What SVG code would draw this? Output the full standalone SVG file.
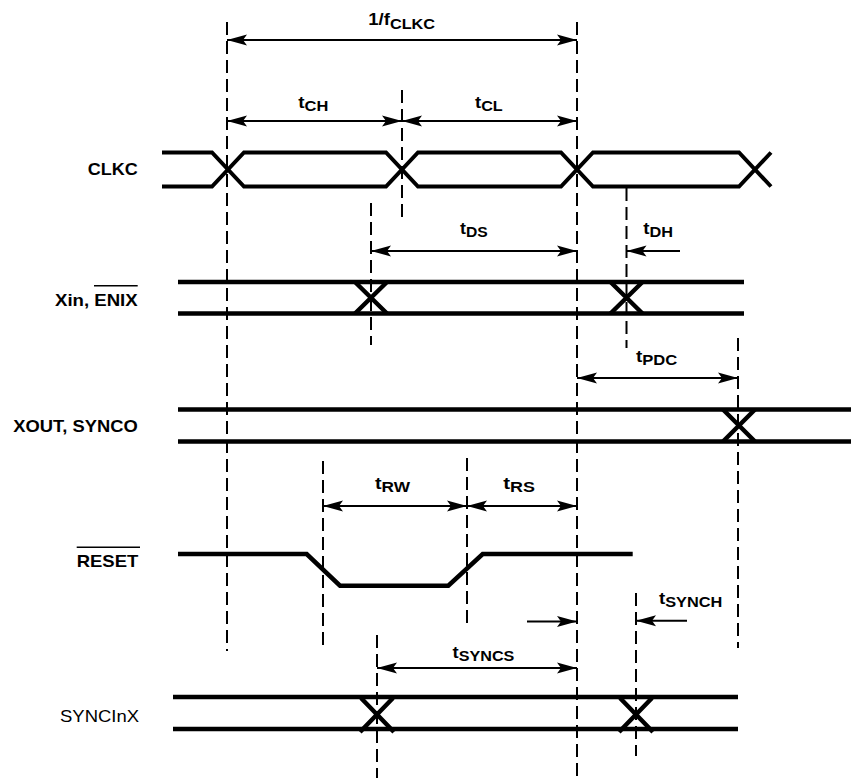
<svg xmlns="http://www.w3.org/2000/svg" width="851" height="778" viewBox="0 0 851 778">
<defs>
<style>
.sig{fill:none;stroke:#000;stroke-width:4.5;stroke-linejoin:miter}
.clk{fill:none;stroke:#000;stroke-width:4;stroke-linejoin:miter}
.dash{fill:none;stroke:#000;stroke-width:2;stroke-dasharray:13 6}
.arr{fill:none;stroke:#000;stroke-width:2}
.ar2{marker-start:url(#ah);marker-end:url(#ah)}
.ar1{marker-end:url(#ah)}
.lbl{font-family:"Liberation Sans",Arial,Helvetica,sans-serif;font-size:17px;font-weight:bold;fill:#000}
.lbn{font-family:"Liberation Sans",Arial,Helvetica,sans-serif;font-size:17px;font-weight:normal;fill:#000}
.tm{font-family:"Liberation Sans",Arial,Helvetica,sans-serif;font-size:16px;font-weight:bold;fill:#000}
.sub{font-size:14px}
.ovl{stroke:#000;stroke-width:1.6}
</style>
<marker id="ah" viewBox="-21 -6 22 12" refX="0" refY="0" markerWidth="22" markerHeight="12" markerUnits="userSpaceOnUse" orient="auto-start-reverse">
<path d="M0,0 L-20,-5.5 L-16,0 L-20,5.5 Z" fill="#000"/>
</marker>
</defs>

<g id="guides">
<line class="dash" x1="227" y1="22" x2="227" y2="651"/>
<line class="dash" x1="402" y1="90" x2="402" y2="221"/>
<line class="dash" x1="371" y1="203" x2="371" y2="345"/>
<line class="dash" x1="577" y1="22" x2="577" y2="778"/>
<line class="dash" x1="626.5" y1="188" x2="626.5" y2="348"/>
<line class="dash" x1="738" y1="338" x2="738" y2="648"/>
<line class="dash" x1="323" y1="461" x2="323" y2="647"/>
<line class="dash" x1="467" y1="458" x2="467" y2="623"/>
<line class="dash" x1="377" y1="635" x2="377" y2="778"/>
<line class="dash" x1="636" y1="593" x2="636" y2="756"/>
</g>

<g id="CLKC">
<text class="lbl" x="87.7" y="175" textLength="50" lengthAdjust="spacingAndGlyphs">CLKC</text>
<path class="clk" d="M162,152.5 H212 L244,186.5 H386 L418,152.5 H561 L593,186.5 H739 L771,152.5"/>
<path class="clk" d="M162,186.5 H212 L244,152.5 H386 L418,186.5 H561 L593,152.5 H739 L771,186.5"/>
</g>

<g id="Xin_ENIX">
<text class="lbl" x="55" y="306" textLength="82.7" lengthAdjust="spacingAndGlyphs">Xin, ENIX</text>
<line class="ovl" x1="94" y1="285.7" x2="137.7" y2="285.7"/>
<path class="sig" d="M178,282 H744 M178,313.5 H744"/>
<path class="sig" d="M355,282 L387,313.5 M387,282 L355,313.5"/>
<path class="sig" d="M610.5,282 L642.5,313.5 M642.5,282 L610.5,313.5"/>
</g>

<g id="XOUT_SYNCO">
<text class="lbl" x="13.3" y="431.7" textLength="124.4" lengthAdjust="spacingAndGlyphs">XOUT, SYNCO</text>
<path class="sig" d="M178,409.5 H851 M178,441.5 H851"/>
<path class="sig" d="M723,409.5 L755,441.5 M755,409.5 L723,441.5"/>
</g>

<g id="RESET">
<text class="lbl" x="76.7" y="566.7" textLength="61.6" lengthAdjust="spacingAndGlyphs">RESET</text>
<line class="ovl" x1="76.7" y1="547.3" x2="140" y2="547.3"/>
<path class="sig" d="M178,554 H306.7 L340,585.7 H448.3 L482.7,554 H632.7"/>
</g>

<g id="SYNCInX">
<text class="lbn" x="60" y="721.7" textLength="79" lengthAdjust="spacingAndGlyphs">SYNCInX</text>
<path class="sig" d="M173,697 H738 M173,729 H738"/>
<path class="sig" d="M361,698 L394,732 M393,698 L360,732"/>
<path class="sig" d="M620,698 L653,732 M652,698 L619,732"/>
</g>

<g id="connectors">
<line class="arr ar2" x1="227" y1="40" x2="577" y2="40"/>
<line class="arr ar2" x1="227" y1="121" x2="402" y2="121"/>
<line class="arr ar2" x1="402" y1="121" x2="577" y2="121"/>
<line class="arr ar2" x1="371" y1="251" x2="577" y2="251"/>
<line class="arr ar1" x1="680" y1="251" x2="626.5" y2="251"/>
<line class="arr ar2" x1="577" y1="378" x2="738" y2="378"/>
<line class="arr ar2" x1="323" y1="506" x2="467" y2="506"/>
<line class="arr ar2" x1="467" y1="506" x2="577" y2="506"/>
<line class="arr ar1" x1="527" y1="621.5" x2="577" y2="621.5"/>
<line class="arr ar1" x1="687" y1="620.7" x2="636" y2="620.7"/>
<line class="arr ar2" x1="377" y1="668" x2="577" y2="668"/>
</g>

<g id="timing-labels">
<text class="tm" x="368.3" y="25" textLength="66.7" lengthAdjust="spacingAndGlyphs">1/f<tspan class="sub" dy="4">CLKC</tspan></text>
<text class="tm" x="298.3" y="108" textLength="30" lengthAdjust="spacingAndGlyphs">t<tspan class="sub" dy="3">CH</tspan></text>
<text class="tm" x="475" y="108" textLength="27.7" lengthAdjust="spacingAndGlyphs">t<tspan class="sub" dy="3">CL</tspan></text>
<text class="tm" x="460" y="234" textLength="27.7" lengthAdjust="spacingAndGlyphs">t<tspan class="sub" dy="3">DS</tspan></text>
<text class="tm" x="643.3" y="234" textLength="29.7" lengthAdjust="spacingAndGlyphs">t<tspan class="sub" dy="3">DH</tspan></text>
<text class="tm" x="636" y="362" textLength="41.3" lengthAdjust="spacingAndGlyphs">t<tspan class="sub" dy="3">PDC</tspan></text>
<text class="tm" x="375" y="489" textLength="35" lengthAdjust="spacingAndGlyphs">t<tspan class="sub" dy="3">RW</tspan></text>
<text class="tm" x="503.3" y="489" textLength="31.7" lengthAdjust="spacingAndGlyphs">t<tspan class="sub" dy="3">RS</tspan></text>
<text class="tm" x="659" y="604" textLength="63.3" lengthAdjust="spacingAndGlyphs">t<tspan class="sub" dy="3">SYNCH</tspan></text>
<text class="tm" x="452.6" y="658" textLength="61.7" lengthAdjust="spacingAndGlyphs">t<tspan class="sub" dy="3">SYNCS</tspan></text>
</g>
</svg>
